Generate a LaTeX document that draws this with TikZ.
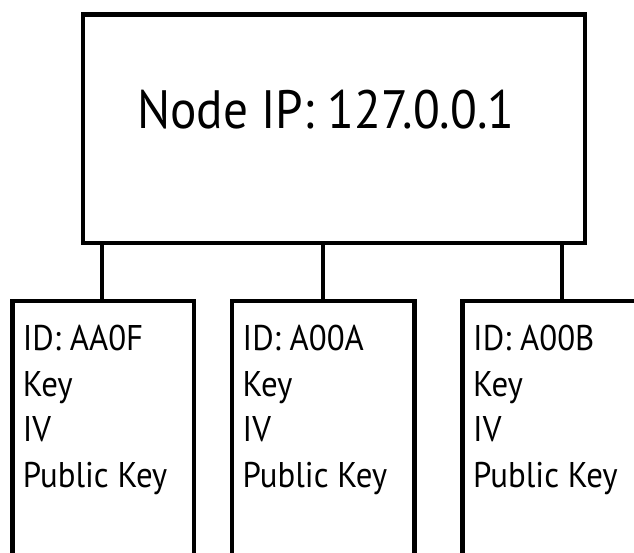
\documentclass[tikz,border=0pt]{standalone}
\usepackage{fontspec}
\setmainfont{PT Sans}
\newcommand{\narrowtext}[1]{\scalebox{0.92}[1]{#1}}
\begin{document}
\begin{tikzpicture}[x=1pt,y=-1pt,
  box/.style={draw=black,line width=4.5pt,rectangle,inner sep=0pt,outer sep=0pt},
  link/.style={draw=black,line width=4.5pt},
  big/.style={font=\fontsize{54}{60}\selectfont,inner sep=0pt},
  info/.style={font=\fontsize{35.7}{45.5}\selectfont,align=left,inner sep=0pt,anchor=base west}]
\useasboundingbox (0,0) rectangle (634,552);
\clip (0,0) rectangle (634,552);
\node[box,minimum width=502pt,minimum height=228.5pt] (top) at (334,128.75) {};
\node[big] (toplabel) at (326,110) {\scalebox{0.912}[1]{Node IP: 127.0.0.1}};
\node[box,minimum width=181.5pt,minimum height=300pt,anchor=north west] (b1) at (12.5,301) {};
\node[box,minimum width=182.5pt,minimum height=300pt,anchor=north west] (b2) at (232,301) {};
\node[box,minimum width=300pt,minimum height=300pt,anchor=north west] (b3) at (462.5,301) {};
\node[info] (t1) at (22.7,487.2) {\narrowtext{ID: AA0F}\\\narrowtext{Key}\\\narrowtext{IV}\\\narrowtext{Public Key}};
\node[info] (t2) at (242.5,487.2) {\narrowtext{ID: A00A}\\\narrowtext{Key}\\\narrowtext{IV}\\\narrowtext{Public Key}};
\node[info] (t3) at (473,487.2) {\narrowtext{ID: A00B}\\\narrowtext{Key}\\\narrowtext{IV}\\\narrowtext{Public Key}};
\draw[link] (top.south -| 102,0) -- (b1.north -| 102,0);
\draw[link] (top.south -| 323,0) -- (b2.north -| 323,0);
\draw[link] (top.south -| 562,0) -- (b3.north -| 562,0);
\end{tikzpicture}
\end{document}
